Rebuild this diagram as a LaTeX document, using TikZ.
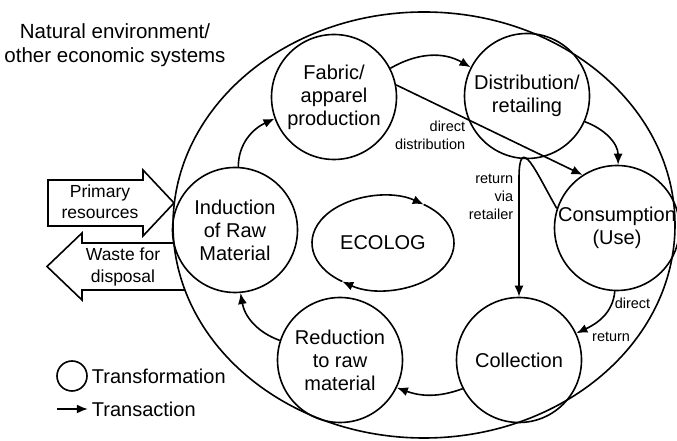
\documentclass[tikz,border=0pt]{standalone}
\usepackage{fontspec}
\setmainfont{Liberation Sans}
\usetikzlibrary{arrows.meta,shapes.geometric,calc}

\begin{document}
\begin{tikzpicture}[
        %Environment config
        x=1pt, y=1pt,
        line width=1.6pt,
        %Environment styles
        StageCfg/.style={
            circle,
            draw,
            minimum size=125pt,
            inner sep=0pt,
            align=center,
            font=\fontsize{20}{23}\selectfont
        },
        FlowCfg/.style={
            -{Latex[length=11pt,width=9pt]}
        },
        NoteCfg/.style={
            font=\fontsize{14.5}{18}\selectfont,
            inner sep=1pt,
            align=right
        },
        ResCfg/.style={
            font=\fontsize{17.5}{21.5}\selectfont,
            align=center
        },
        LegCfg/.style={
            font=\fontsize{20}{24}\selectfont
        }
    ]
    \useasboundingbox (0,0) rectangle (677,441);

    \path
        (424,216) node[ellipse,draw,minimum width=502pt,minimum height=426pt,inner sep=0pt](env){}
        (115,396) node[align=center,font=\fontsize{20.5}{24}\selectfont](title){Natural environment/\\other economic systems}
        (235,211) node[StageCfg](ind){Induction\\of Raw\\Material}
            ++ (99,133) node[StageCfg](fab){Fabric/\\apparel\\production}
            ++ (193,1) node[StageCfg](dist){Distribution/\\retailing}
            ++ (90,-132) node[StageCfg](cons){Consumption\\(Use)}
            ++ (-98,-132) node[StageCfg](coll){Collection}
            ++ (-179,0) node[StageCfg](red){Reduction\\to raw\\material}
        (383,198) node[font=\fontsize{20}{23}\selectfont](eco){ECOLOG};

    %ecolog cycle
    \draw[FlowCfg] (eco.center) ++(235:71 and 47)
        arc[start angle=235,end angle=55,x radius=71,y radius=47];
    \draw[FlowCfg] (eco.center) ++(55:71 and 47)
        arc[start angle=55,end angle=-125,x radius=71,y radius=47];

    %transactions
    \draw[FlowCfg] (ind.87) to[out=90,in=205] (fab.200);
    \draw[FlowCfg] (fab.27) to[out=30,in=150] (dist.153);
    \draw[FlowCfg] (fab.11) -- node[NoteCfg,pos=0.38,anchor=north east]{direct\\distribution} (cons.123);
    \draw[FlowCfg] (dist.-24) to[out=-20,in=90] (cons.89);
    \draw[FlowCfg] (cons.162) .. controls +(120:40) and +(0,48) .. ([yshift=118pt]coll.north)
        -- node[NoteCfg,pos=0,anchor=north east,xshift=-4pt,yshift=6pt]{return\\via\\retailer} (coll.north);
    \draw[FlowCfg] (cons.-92) to[out=-95,in=25]
        node[NoteCfg,pos=0.2,anchor=west,xshift=1pt]{direct}
        node[NoteCfg,pos=1,anchor=west,xshift=14pt,yshift=-4pt]{return} (coll.25);
    \draw[FlowCfg] (coll.207) to[out=200,in=-20] (red.-26);
    \draw[FlowCfg] (red.162) to[out=160,in=-80] (ind.-85);

    %resources in and out
    \draw (174,238) -- (143,271) -- (143,261) -- (48,261) -- (48,215) -- (143,215) -- (143,205) -- cycle;
    \node[ResCfg](prim) at (100,239){Primary\\resources};
    \draw (173.9,198) -- (82,198) -- (82,208) -- (47,174.5) -- (82,141) -- (82,151) -- (185,151);
    \node[ResCfg](waste) at (123,174){Waste for\\disposal};

    %legend
    \node[circle,draw,minimum size=30pt,inner sep=0pt](legcirc) at (72,65){};
    \node[LegCfg,anchor=west](transf) at (legcirc.east){Transformation};
    \coordinate (legarr) at (57,32);
    \node[LegCfg,anchor=west](transa) at (legcirc.east |- legarr){Transaction};
    \draw[FlowCfg] (legarr) -- (transa.west);
\end{tikzpicture}
\end{document}
